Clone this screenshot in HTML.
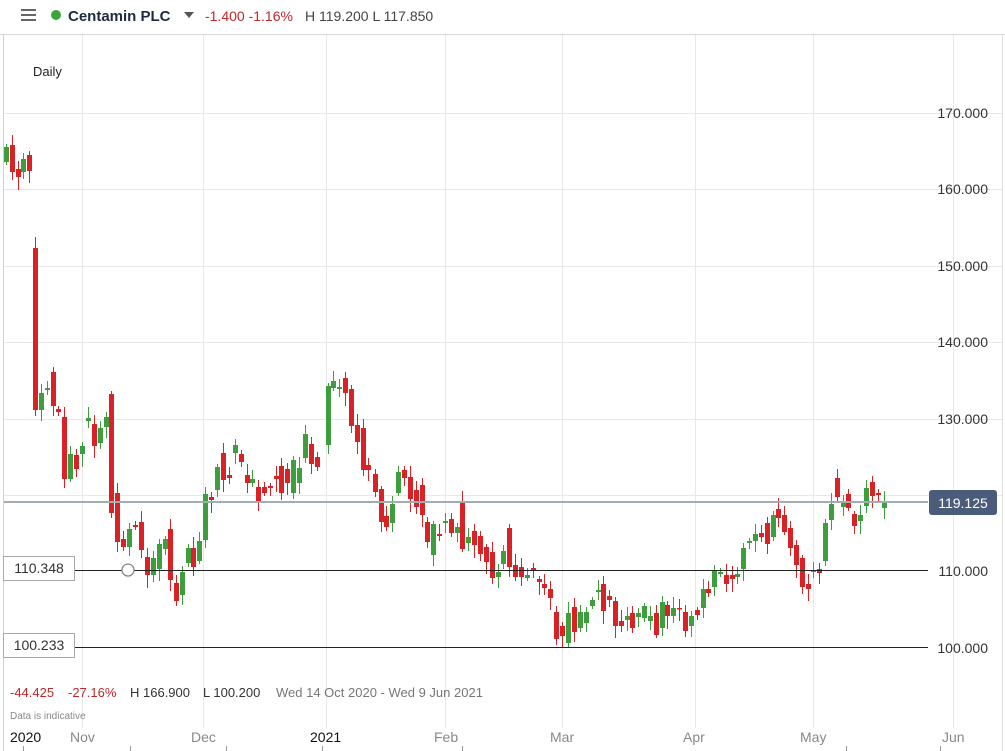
<!DOCTYPE html>
<html><head><meta charset="utf-8"><style>
html,body{margin:0;padding:0;background:#fff;}
svg{display:block;font-family:"Liberation Sans",sans-serif;}
</style></head><body>
<svg id="s" width="1005" height="751" viewBox="0 0 1005 751" xmlns="http://www.w3.org/2000/svg">
<rect width="1005" height="751" fill="#fff"/>
<line x1="0" y1="34.5" x2="1005" y2="34.5" stroke="#d8d8d8"/>
<line x1="3.5" y1="34" x2="3.5" y2="751" stroke="#d0d0d0"/>
<line x1="1002.5" y1="34" x2="1002.5" y2="751" stroke="#e0e0e0"/>
<g stroke="#e8e8e8" stroke-width="1">
<line x1="4" x2="1002" y1="113.5" y2="113.5"/><line x1="4" x2="1002" y1="189.5" y2="189.5"/>
<line x1="4" x2="1002" y1="266.5" y2="266.5"/><line x1="4" x2="1002" y1="342.5" y2="342.5"/>
<line x1="4" x2="1002" y1="419.5" y2="419.5"/><line x1="4" x2="1002" y1="495.5" y2="495.5"/>
<line x1="82.5" x2="82.5" y1="35" y2="728"/><line x1="203.5" x2="203.5" y1="35" y2="728"/>
<line x1="326.5" x2="326.5" y1="35" y2="728"/><line x1="445.5" x2="445.5" y1="35" y2="728"/>
<line x1="562.5" x2="562.5" y1="35" y2="728"/><line x1="695.5" x2="695.5" y1="35" y2="728"/>
<line x1="813.5" x2="813.5" y1="35" y2="728"/><line x1="953.5" x2="953.5" y1="35" y2="728"/>
</g>
<g id="c"></g>
<line x1="4" x2="928" y1="502" y2="502" stroke="#a3abb3" stroke-width="2"/>
<line x1="75" x2="928" y1="570.5" y2="570.5" stroke="#222"/>
<line x1="75" x2="928" y1="647.5" y2="647.5" stroke="#222"/>
<circle cx="128" cy="570" r="6" fill="#fff" stroke="#888" stroke-width="1.3"/>
<rect x="3.5" y="556.5" width="71" height="24" fill="#fff" stroke="#aaa"/>
<text x="39" y="573" font-size="14" fill="#333" text-anchor="middle">110.348</text>
<rect x="3.5" y="633.5" width="71" height="24" fill="#fff" stroke="#aaa"/>
<text x="39" y="650" font-size="14" fill="#333" text-anchor="middle">100.233</text>
<g font-size="14" fill="#333" text-anchor="end">
<text x="988" y="118">170.000</text><text x="988" y="194">160.000</text>
<text x="988" y="271">150.000</text><text x="988" y="347">140.000</text>
<text x="988" y="424">130.000</text><text x="988" y="576">110.000</text>
<text x="988" y="653">100.000</text>
</g>
<rect x="929" y="490" width="68" height="25" rx="3" fill="#4b5b7a"/>
<text x="963" y="508" font-size="14" fill="#fff" text-anchor="middle">119.125</text>
<g stroke="#666" stroke-width="2"><line x1="21" x2="36" y1="10" y2="10"/><line x1="21" x2="36" y1="15" y2="15"/><line x1="21" x2="36" y1="20" y2="20"/></g>
<circle cx="56" cy="15" r="5" fill="#3aa63a"/>
<text x="68" y="21" font-size="15" font-weight="bold" fill="#1e2a40">Centamin PLC</text>
<path d="M184 12 L194 12 L189 18 Z" fill="#555"/>
<text x="205" y="21" font-size="14" fill="#c0282d">-1.400  -1.16%</text>
<text x="305" y="21" font-size="14" fill="#444">H 119.200 L 117.850</text>
<text x="33" y="76" font-size="13" fill="#222">Daily</text>
<text x="10" y="697" font-size="13" fill="#c0282d">-44.425</text>
<text x="68" y="697" font-size="13" fill="#c0282d">-27.16%</text>
<text x="130" y="697" font-size="13" fill="#333">H 166.900</text>
<text x="203" y="697" font-size="13" fill="#333">L 100.200</text>
<text x="276" y="697" font-size="13" fill="#777">Wed 14 Oct 2020 - Wed 9 Jun 2021</text>
<text x="10" y="719" font-size="10" fill="#888">Data is indicative</text>
<g font-size="14">
<text x="10" y="742" fill="#111">2020</text><text x="70" y="742" fill="#888">Nov</text>
<text x="191" y="742" fill="#888">Dec</text><text x="310" y="742" fill="#111">2021</text>
<text x="434" y="742" fill="#888">Feb</text><text x="550" y="742" fill="#888">Mar</text>
<text x="683" y="742" fill="#888">Apr</text><text x="800" y="742" fill="#888">May</text>
<text x="942" y="742" fill="#888">Jun</text>
</g>
<g stroke="#999"><line x1="23.5" x2="23.5" y1="746" y2="751"/><line x1="130.5" x2="130.5" y1="746" y2="751"/><line x1="226.5" x2="226.5" y1="746" y2="751"/><line x1="322.5" x2="322.5" y1="746" y2="751"/><line x1="462.5" x2="462.5" y1="746" y2="751"/><line x1="846.5" x2="846.5" y1="746" y2="751"/><line x1="940.5" x2="940.5" y1="746" y2="751"/></g>
</svg>
<script>
var d=[[6,147,162,'g'],[12,145,172,'r'],[18,169,177,'r'],[23,159,172,'g'],[29,155,171,'r'],[35,248,410,'r'],
[41,393,410,'g'],[47,388,390,'g'],[53,372,406,'r'],[58,409,412,'r'],[64,417,479,'r'],[70,454,479,'g'],[76,455,469,'r'],[82,446,454,'g'],[88,418,421,'g'],[94,424,446,'r'],[100,428,443,'g'],[106,417,427,'g'],
[111,394,513,'r'],[117,493,542,'r'],[123,539,547,'r'],[129,529,547,'g'],[135,525,527,'r'],[141,522,550,'r'],[147,557,575,'r'],[153,558,575,'g'],[159,544,569,'g'],[165,539,549,'g'],[170,529,580,'r'],[176,583,601,'r'],[182,572,595,'g'],[188,548,563,'g'],[193,548,567,'r'],[199,541,561,'g'],[205,494,540,'g'],[211,497,500,'r'],[217,467,490,'g'],[223,453,480,'r'],[229,475,478,'r'],[235,445,453,'g'],[241,454,462,'r'],[247,475,483,'r'],[252,479,483,'g'],[258,487,502,'r'],[264,487,493,'r'],[270,486,488,'r'],[276,476,479,'r'],[281,466,493,'r'],[287,469,483,'r'],[293,460,493,'g'],[299,468,483,'g'],[305,434,458,'g'],[311,444,464,'r'],[317,457,467,'r'],
[328,386,445,'g'],[333,381,388,'g'],[339,387,389,'g'],[345,378,393,'r'],[351,389,426,'r'],[357,425,442,'r'],[363,428,470,'r'],[368,465,470,'r'],[375,474,492,'r'],[381,489,522,'r'],[386,516,527,'r'],[392,504,523,'g'],[398,472,493,'g'],[404,470,478,'r'],[410,477,499,'r'],[416,490,507,'r'],[422,485,515,'r'],[427,522,542,'r'],[433,524,555,'g'],[439,534,536,'r'],[445,521,523,'g'],[451,519,533,'r'],[457,527,533,'g'],[462,502,549,'r'],[468,537,543,'g'],[474,531,545,'r'],[480,536,554,'r'],[486,547,562,'r'],[492,552,578,'r'],[498,572,577,'g'],[503,551,564,'g'],[509,528,567,'r'],[515,565,577,'r'],[521,567,577,'r'],[527,575,578,'g'],[533,568,570,'r'],[539,579,582,'r'],[544,584,588,'r'],[550,589,598,'r'],[556,612,639,'r'],[562,626,636,'r'],[568,613,643,'g'],[574,607,632,'r'],[580,612,628,'g'],[586,612,623,'g'],[592,600,606,'g'],[598,590,592,'g'],[603,584,611,'r'],[609,596,600,'r'],[615,601,626,'r'],[621,621,626,'r'],[627,616,620,'g'],[632,613,628,'r'],[638,613,617,'g'],[644,606,618,'g'],[650,616,621,'g'],[656,613,635,'r'],[662,602,628,'g'],[667,605,616,'r'],[673,608,616,'g'],[679,608,609,'r'],[685,612,631,'r'],[691,616,626,'g'],[697,610,615,'r'],[703,589,608,'g'],[708,589,593,'r'],[714,571,587,'g'],[720,572,574,'g'],[726,575,584,'r'],[732,575,579,'r'],[737,574,577,'g'],[743,548,569,'g'],[749,541,543,'g'],[755,534,541,'g'],[761,533,537,'r'],[767,523,544,'r'],[773,515,537,'g'],[778,509,518,'r'],[784,515,532,'r'],[790,528,548,'r'],[796,545,565,'r'],[802,558,587,'r'],[808,584,589,'r'],[813,570,572,'g'],[819,569,573,'r'],[825,523,561,'g'],[831,504,520,'g'],[837,478,497,'r'],[843,502,507,'g'],[848,494,508,'r'],[854,514,526,'r'],[860,515,521,'g'],[866,488,506,'g'],[872,482,496,'r'],[878,493,495,'r'],[884,502,508,'g']];
var h='';
for(var i=0;i<d.length;i++){var c=d[i],col=c[3]=='g'?'#3d9e3d':'#d82226';
var w1=3+((i*7)%9),w2=3+((i*5)%11);
h+='<line x1="'+(c[0]+0.5)+'" x2="'+(c[0]+0.5)+'" y1="'+(c[1]-w1)+'" y2="'+(c[2]+w2)+'" stroke="'+col+'" stroke-width="1"/>';
h+='<rect x="'+(c[0]-2)+'" y="'+c[1]+'" width="5" height="'+Math.max(1.5,c[2]-c[1])+'" fill="'+col+'"/>';}
document.getElementById('c').innerHTML=h;
</script>
</body></html>
